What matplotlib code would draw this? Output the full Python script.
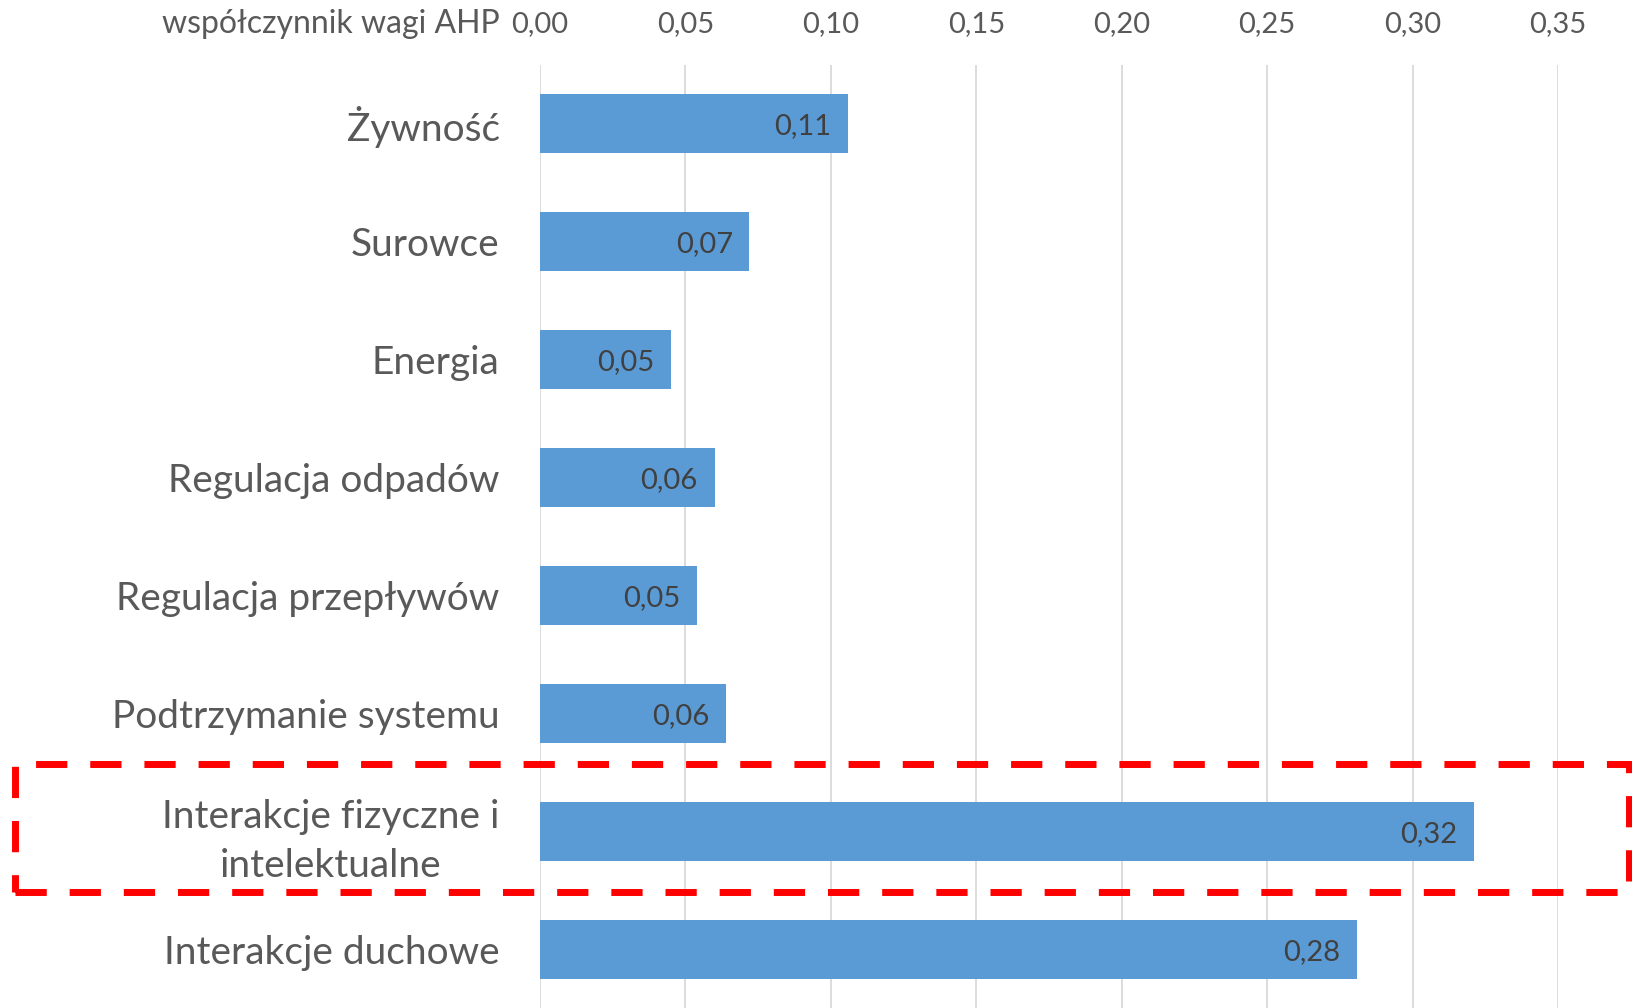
import matplotlib
matplotlib.use("Agg")
import matplotlib.pyplot as plt
from matplotlib.patches import Rectangle
from matplotlib.ticker import FuncFormatter
import matplotlib.transforms as mtransforms

categories = ["Żywność", "Surowce", "Energia", "Regulacja odpadów",
              "Regulacja przepływów", "Podtrzymanie systemu",
              "Interakcje fizyczne i\nintelektualne", "Interakcje duchowe"]
values = [0.106, 0.072, 0.045, 0.060, 0.054, 0.064, 0.321, 0.281]
value_labels = ["0,11", "0,07", "0,05", "0,06", "0,05", "0,06", "0,32", "0,28"]
xticks = [0.00, 0.05, 0.10, 0.15, 0.20, 0.25, 0.30, 0.35]
axis_title = "współczynnik wagi AHP"
highlight_index = 6

plt.rcParams['font.family'] = ['Lato', 'DejaVu Sans']

W, H = 1632, 1008
fig = plt.figure(figsize=(W / 100, H / 100), dpi=100)
left = 540 / W
right = 1558 / W
top = 1 - 64.5 / H
ax = fig.add_axes([left, 0.0, right - left, top])

ypos = list(range(len(categories)))
ax.barh(ypos, values, height=0.5, color="#5B9BD5", zorder=3)
ax.set_ylim(len(categories) - 0.5, -0.5)
ax.set_xlim(0, 0.35)

ax.set_xticks(xticks)
ax.xaxis.set_major_formatter(FuncFormatter(lambda v, p: f"{v:.2f}".replace(".", ",")))
ax.xaxis.tick_top()
ax.tick_params(axis='x', length=0, pad=20, labelsize=21, labelcolor="#595959")
ax.set_yticks(ypos)
ax.set_yticklabels(categories, multialignment='center', linespacing=1.45)
ax.tick_params(axis='y', length=0, pad=29, labelsize=28, labelcolor="#595959")

ax.grid(axis='x', color="#D9D9D9", linewidth=1.3, zorder=0)
for s in ax.spines.values():
    s.set_visible(False)

for y, v, lab in zip(ypos, values, value_labels):
    ax.annotate(lab, xy=(v, y), xytext=(-12, -2), textcoords='offset points',
                ha='right', va='center', fontsize=21, color="#404040", zorder=4)

# axis title left of the first tick label
fig.text(500 / W, 1 - 24 / H, axis_title, ha='right', va='center',
         fontsize=23, color="#595959")

# dashed red highlight box around the highlighted category
trans = mtransforms.blended_transform_factory(fig.transFigure, ax.transData)
box = Rectangle((15 / W, highlight_index + 0.52), (1629 - 15) / W, -1.09,
                transform=trans, fill=False, edgecolor="#FF0000", linewidth=5,
                linestyle=(0, (4.5, 3.3)), clip_on=False, zorder=5)
fig.add_artist(box)

fig.savefig("out.png", dpi=100)
